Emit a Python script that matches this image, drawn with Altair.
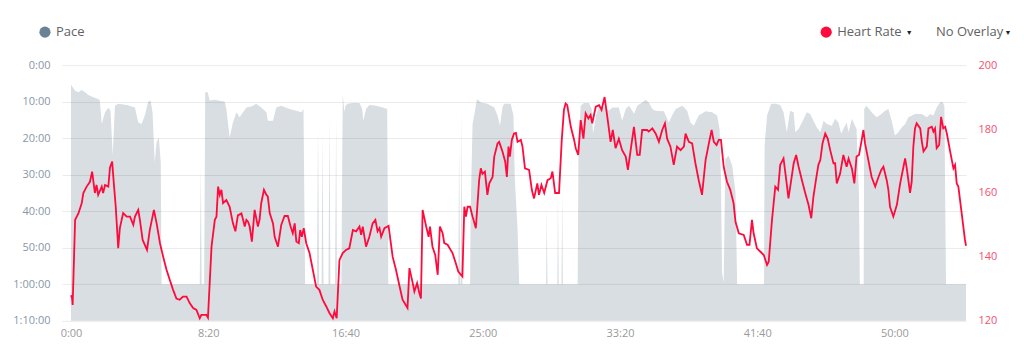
import altair as alt
import pandas as pd

# ---- Heart rate series (time in seconds, bpm) ----
time_hr = [
    0, 4, 6, 15, 27, 39, 45, 57, 69, 77,
    81, 87, 93, 99, 112, 117, 124, 136, 142, 150,
    156, 163, 172, 178, 190, 203, 215, 227, 233, 245,
    251, 261, 277, 287, 302, 312, 324, 336, 348, 360,
    372, 384, 396, 408, 421, 433, 445, 457, 469, 475,
    493, 499, 512, 524, 530, 536, 542, 548, 554, 566,
    578, 590, 599, 608, 621, 627, 633, 639, 645, 651,
    659, 669, 681, 687, 693, 703, 712, 717, 724, 736,
    742, 754, 766, 778, 790, 800, 808, 815, 821, 830,
    835, 841, 848, 857, 869, 881, 893, 905, 917, 930,
    942, 954, 960, 968, 978, 990, 1002, 1014, 1027, 1039,
    1051, 1057, 1063, 1075, 1087, 1099, 1109, 1117, 1124, 1130,
    1142, 1157, 1172, 1184, 1196, 1208, 1226, 1233, 1245, 1251,
    1261, 1269, 1275, 1281, 1294, 1303, 1308, 1317, 1327, 1336,
    1344, 1354, 1360, 1372, 1390, 1402, 1411, 1421, 1426, 1433,
    1439, 1445, 1454, 1463, 1475, 1487, 1493, 1499, 1508, 1517,
    1524, 1536, 1542, 1554, 1560, 1572, 1582, 1588, 1594, 1599,
    1606, 1614, 1621, 1627, 1639, 1645, 1654, 1669, 1679, 1687,
    1699, 1705, 1714, 1724, 1736, 1748, 1754, 1764, 1778, 1788,
    1796, 1802, 1808, 1821, 1833, 1839, 1848, 1857, 1867, 1875,
    1885, 1893, 1899, 1912, 1924, 1933, 1944, 1954, 1966, 1974,
    1984, 1996, 2008, 2021, 2029, 2039, 2051, 2063, 2072, 2081,
    2099, 2105, 2118, 2130, 2142, 2154, 2164, 2172, 2184, 2196,
    2208, 2221, 2233, 2239, 2251, 2263, 2275, 2287, 2299, 2312,
    2324, 2334, 2342, 2352, 2360, 2368, 2378, 2390, 2402, 2414,
    2421, 2433, 2451, 2463, 2472, 2481, 2487, 2499, 2511, 2524,
    2536, 2542, 2554, 2566, 2576, 2584, 2596, 2606, 2614, 2624,
    2633, 2642, 2651, 2663, 2675, 2687, 2697, 2705, 2714, 2723,
    2730, 2738, 2748, 2757, 2766, 2778, 2784, 2790, 2802, 2814,
    2826, 2833, 2845, 2854, 2862, 2871, 2881, 2887, 2893, 2905,
    2917, 2930, 2942, 2952, 2960, 2972, 2978, 2984, 2996, 3009,
    3021, 3033, 3039, 3045, 3057, 3063, 3069, 3075, 3081, 3094,
    3100, 3106, 3118, 3124, 3136, 3142, 3148, 3154, 3163, 3170,
    3178, 3185, 3191, 3203, 3215, 3221, 3227, 3233, 3245, 3257, 3261,
]
heart_rate = [
    128, 127, 125, 151.6, 153.6, 156.8, 160, 162, 163.5, 166.7,
    164, 160, 162.5, 159.4, 162, 160, 162.5, 162, 168, 169.8,
    163, 155.7, 142.7, 149, 153.7, 152.6, 152.6, 150, 152.6, 154.7,
    151.6, 145.3, 142.2, 148.4, 154.7, 150.5, 144.3, 140, 136, 132.8,
    129.7, 127, 126.6, 127.6, 127.6, 125.5, 124, 123.4, 120.8, 121.9,
    121.9, 121, 143.2, 151.6, 152.6, 162, 159.4, 161, 156.8, 157.8,
    155.7, 150.5, 148, 153, 153.6, 151.6, 149.5, 151.6, 151, 149.5,
    144.8, 154.7, 149.5, 151.6, 156.8, 161, 159.4, 158.9, 153.7, 150.5,
    146.3, 143.2, 150, 152.8, 152.8, 149.5, 147.4, 150.5, 144.8, 144.3,
    148.4, 146.3, 149, 144.3, 141.2, 136, 130.7, 129.7, 126.6, 124.5,
    122.4, 120.8, 122.9, 120.8, 139, 141.2, 142.2, 142.7, 148.4, 148,
    149.5, 146.9, 149.5, 143.2, 146.3, 150.5, 151.6, 148, 149, 146.3,
    149, 149.7, 140, 136, 131.2, 126.6, 124, 136.5, 131.8, 129.2,
    131.8, 128.7, 127, 154.7, 149.5, 146.3, 149.5, 143.2, 140.6, 134.4,
    149.5, 147.4, 144.3, 143.8, 141.2, 138, 135.4, 134.4, 133.9, 155.7,
    152.6, 155.7, 155.7, 152.6, 149, 164, 167.7, 166, 166.7, 159.4,
    163, 165, 171.4, 175.5, 176, 173, 169.8, 165, 174.5, 171.4,
    176.6, 178.6, 178.8, 176, 176.6, 174.5, 167.7, 167.2, 161, 158.3,
    163, 159.4, 162.5, 160, 164, 164.6, 166.7, 160, 160, 176.6,
    186, 188, 187.5, 180.7, 176.6, 174, 171.9, 182.8, 177, 184.9,
    183.3, 184.4, 181.8, 187, 187.5, 186, 190, 183.8, 176, 179.7,
    174, 177, 173.4, 171.4, 167.2, 173.4, 180.7, 171.9, 171.9, 179.7,
    179.7, 179.2, 180.2, 178.6, 176, 179.7, 181.8, 177, 174.5, 168.8,
    174.5, 173.4, 174.5, 178.6, 176, 175.5, 169.3, 164, 159.4, 170.3,
    175.5, 179.7, 176, 175, 176.6, 176.6, 168.2, 163.5, 161, 156.8,
    151, 147.4, 146.9, 143.8, 143.8, 151.6, 147.4, 142.7, 141.7, 140.6,
    137.5, 138.5, 151.6, 162, 161, 168.8, 170.8, 164, 158.3, 164,
    169.3, 171.9, 168.2, 164, 160, 156.3, 152.1, 158.9, 164, 168.8,
    170.3, 175.5, 178.6, 177, 173.4, 169.3, 169.3, 163, 166, 171.9,
    168.2, 170.8, 167.7, 163, 171.4, 171.9, 176.6, 179.7, 175.5, 170.3,
    165, 162, 165, 167.2, 168.2, 164, 161, 155.7, 152.6, 156.3,
    163, 168.2, 170.8, 167.7, 160, 163.5, 174.5, 180.2, 181.8, 180.2,
    176, 173, 174.5, 180.2, 180.7, 179.2, 180.2, 174, 175, 183.8,
    180.2, 180.7, 178.6, 173, 167.7, 168.8, 163, 162, 153.7, 145.3, 143.5,
]

# ---- Pace series (time in seconds, pace in minutes; stops capped at 60) ----
time_pace = [
    0, 15, 27, 39, 51, 63, 81, 99, 105, 112,
    124, 136, 144, 152, 160, 172, 203, 233, 245, 257,
    269, 281, 290, 297, 305, 312, 320, 327, 330, 469,
    473, 476, 485, 489, 498, 505, 524, 560, 566, 578,
    590, 603, 614, 627, 639, 657, 675, 693, 712, 717,
    736, 748, 766, 796, 821, 839, 847, 853, 896, 900,
    904, 913, 916, 920, 938, 942, 945, 962, 966, 969,
    985, 990, 996, 1000, 1008, 1027, 1051, 1061, 1065, 1075,
    1087, 1112, 1136, 1152, 1156, 1411, 1414, 1418, 1420, 1423,
    1426, 1454, 1456, 1463, 1469, 1479, 1493, 1517, 1542, 1554,
    1563, 1572, 1578, 1602, 1612, 1617, 1627, 1633, 1731, 1733,
    1736, 1772, 1774, 1777, 1787, 1790, 1792, 1846, 1849, 1857,
    1869, 1887, 1897, 1902, 1913, 1924, 1948, 1960, 1972, 1996,
    2008, 2021, 2033, 2045, 2051, 2063, 2081, 2094, 2105, 2118,
    2130, 2160, 2178, 2190, 2203, 2227, 2245, 2257, 2269, 2287,
    2312, 2336, 2354, 2363, 2368, 2372, 2378, 2384, 2396, 2409,
    2421, 2427, 2525, 2527, 2536, 2551, 2567, 2584, 2596, 2608,
    2620, 2633, 2639, 2651, 2663, 2681, 2693, 2705, 2717, 2730,
    2742, 2754, 2772, 2784, 2796, 2806, 2814, 2826, 2833, 2845,
    2862, 2871, 2874, 2888, 2890, 2898, 2917, 2935, 2953, 2966,
    2978, 2990, 3002, 3014, 3027, 3039, 3051, 3075, 3100, 3118,
    3130, 3142, 3154, 3166, 3175, 3182, 3188, 3261,
]
pace_min = [
    5.4, 7.0, 7.4, 6.8, 7.4, 8.2, 8.8, 9.3, 9.7, 16.1,
    12.9, 11.7, 12.5, 24.8, 11.1, 10.6, 10.9, 11.6, 15.7, 16.1,
    13.8, 10.0, 9.7, 12.9, 26.6, 21.1, 19.8, 26.6, 60, 60,
    27.5, 60, 60, 7.4, 7.4, 9.7, 9.5, 10, 12, 19.8,
    15.7, 12.9, 14.3, 12.9, 11.6, 11.3, 10.6, 11.6, 12.9, 15.2,
    15.2, 11.6, 11.1, 12.0, 12.5, 12.9, 12.0, 60, 60, 16.6,
    60, 60, 18.8, 60, 60, 13.8, 60, 60, 14.7, 60,
    60, 7.9, 12.9, 11.1, 10.6, 10.4, 10.4, 12, 15.2, 12,
    10.9, 11.1, 11.6, 12, 60, 60, 21.6, 60, 60, 12,
    60, 60, 40, 16.1, 13.8, 9.3, 10.2, 10.6, 11.6, 13.8,
    16.6, 11.6, 10.6, 10.6, 13.8, 31.2, 44.9, 60, 60, 38.9,
    60, 60, 34.8, 60, 60, 33.9, 60, 60, 22, 11.1,
    10.4, 10.4, 12, 18.8, 13.8, 11.1, 11.6, 12.5, 11.6, 11.6,
    15.2, 12, 11.1, 12.5, 13.4, 11.1, 10.2, 9.5, 10.2, 12,
    12.5, 12.6, 15.7, 13.8, 12, 11.1, 12.5, 15.7, 16.6, 13.8,
    12.6, 12.9, 13.8, 17.5, 31.2, 56.7, 59.5, 25.7, 24.8, 27.5,
    34.8, 60, 60, 22, 13.8, 10.6, 10.6, 10.9, 12.9, 18.4,
    12.5, 12.9, 18.4, 17.5, 15.7, 12.9, 13.4, 15.2, 17, 18.4,
    15.2, 16.1, 16.6, 14.7, 15.7, 18.8, 17.5, 15.7, 18.4, 14.7,
    17.5, 35.7, 60, 60, 12, 11.1, 12.9, 14.3, 13.4, 12.5,
    12, 15.2, 19.3, 18.4, 17, 16.1, 14.3, 13.4, 13.4, 14.3,
    13.4, 13.8, 11.6, 10.2, 10, 11.1, 60, 60,
]

x_ticks = [0, 500, 1000, 1500, 2000, 2500, 3000]
pace_ticks = [0, 10, 20, 30, 40, 50, 60, 70]
hr_ticks = [120, 140, 160, 180, 200]

assert len(time_hr) == len(heart_rate)
assert len(time_pace) == len(pace_min)

pace_df = pd.DataFrame({"t": time_pace, "pace": pace_min, "base": [70] * len(pace_min)})
hr_df = pd.DataFrame({"t": time_hr, "hr": heart_rate})

FONT = "Open Sans"

x_enc = alt.X(
    "t:Q",
    scale=alt.Scale(domain=[-33, 3261], nice=False, zero=False),
    axis=alt.Axis(
        values=x_ticks,
        labelExpr="floor(datum.value/60) + ':' + (datum.value % 60 < 10 ? '0' : '') + (datum.value % 60)",
        grid=False, ticks=False, domain=False, labelPadding=7,
        labelColor="#9a9a9a", labelFontSize=11, labelFont=FONT, title=None,
    ),
)

area = alt.Chart(pace_df).mark_area(color="#d9dee2", interpolate="linear").encode(
    x=x_enc,
    y=alt.Y(
        "pace:Q",
        scale=alt.Scale(domain=[0, 70], reverse=True, nice=False, zero=False),
        axis=alt.Axis(
            values=pace_ticks,
            labelExpr="datum.value < 60 ? datum.value + ':00' : '1:' + (datum.value - 60 < 10 ? '0' : '') + (datum.value - 60) + ':00'",
            grid=True, gridColor="#000000", gridOpacity=0.085, gridWidth=1,
            ticks=False, domain=False, labelPadding=12,
            labelColor="#8797a8", labelFontSize=11, labelFont=FONT, title=None, zindex=1,
        ),
    ),
    y2="base:Q",
)

line = alt.Chart(hr_df).mark_line(color="#ff0a3c", strokeWidth=1.8, interpolate="linear").encode(
    x=x_enc,
    y=alt.Y(
        "hr:Q",
        scale=alt.Scale(domain=[120, 200], nice=False, zero=False),
        axis=alt.Axis(
            orient="right", values=hr_ticks, grid=False, ticks=False, domain=False,
            labelPadding=12, labelColor="#f5506e", labelFontSize=11, labelFont=FONT, title=None,
        ),
    ),
)

one = pd.DataFrame({"a": [0]})


def legend_text(label, px, py, color="#626262", size=13, align="left"):
    return alt.Chart(one).mark_text(
        align=align, baseline="middle", font=FONT, fontSize=size, color=color
    ).encode(x=alt.value(px), y=alt.value(py), text=alt.value(label))


def legend_dot(px, py, color):
    return alt.Chart(one).mark_point(
        filled=True, shape="circle", size=125, opacity=1, color=color
    ).encode(x=alt.value(px), y=alt.value(py))


legend = [
    legend_dot(-17, -33, "#6b8296"),
    legend_text("Pace", -6, -33),
    legend_dot(765, -33, "#ff0a3c"),
    legend_text("Heart Rate", 776, -33),
    legend_text("▼", 848, -32, color="#222222", size=7, align="center"),
    legend_text("No Overlay", 875, -33),
    legend_text("▼", 947, -32, color="#222222", size=7, align="center"),
]

chart = (
    alt.layer(area, line, *legend)
    .resolve_scale(y="independent")
    .properties(
        width=905,
        height=256,
        padding={"left": 54, "top": 57, "right": 50, "bottom": 25},
        autosize=alt.AutoSizeParams(type="none"),
        background="white",
    )
    .configure_view(stroke=None)
)

chart.save("out.html", embed_options={"renderer": "svg", "actions": False})
